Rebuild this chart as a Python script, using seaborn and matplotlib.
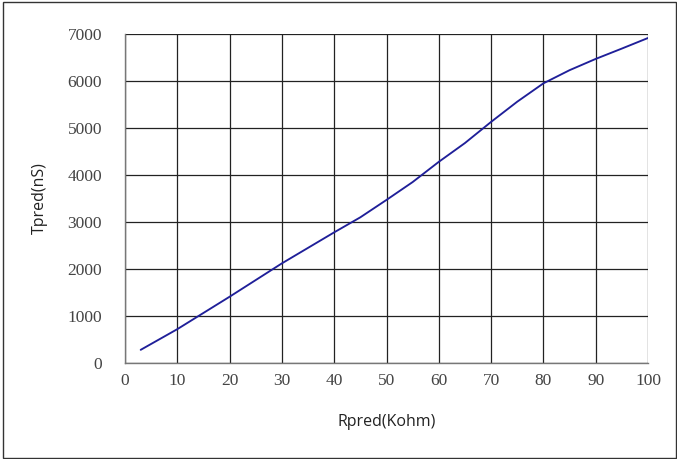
import matplotlib
matplotlib.use("Agg")
import matplotlib.pyplot as plt
import seaborn as sns
import pandas as pd
from matplotlib.patches import Rectangle

rpred = [3, 10, 20, 30, 35, 40, 45, 50, 55, 60, 65, 70, 75, 80, 85, 90, 95, 100]
tpred = [280, 720, 1410, 2120, 2450, 2780, 3100, 3470, 3850, 4280, 4680, 5130, 5560, 5950, 6230, 6470, 6690, 6915]
x_ticks = [0, 10, 20, 30, 40, 50, 60, 70, 80, 90, 100]
y_ticks = [0, 1000, 2000, 3000, 4000, 5000, 6000, 7000]

df = pd.DataFrame({"Rpred": rpred, "Tpred": tpred})

sns.set_theme(style="white")
fig = plt.figure(figsize=(6.77, 4.59), dpi=100)
ax = fig.add_axes([125/677, (459-363)/459, (648-125)/677, (363-34)/459])

sns.lineplot(data=df, x="Rpred", y="Tpred", ax=ax, color="#1f1f99", linewidth=1.35)

ax.set_xlim(0, 100)
ax.set_ylim(0, 7000)
ax.set_xticks(x_ticks)
ax.set_yticks(y_ticks)
ax.grid(True, color="#222222", linewidth=0.9)
ax.set_axisbelow(True)
for s in ["top", "right"]:
    ax.spines[s].set_visible(False)
for s in ["left", "bottom"]:
    ax.spines[s].set_color("#777777")
    ax.spines[s].set_linewidth(1.0)

ax.tick_params(axis="both", length=0, labelsize=12.5, labelcolor="#444444")
ax.tick_params(axis="y", pad=16.5)
ax.tick_params(axis="x", pad=7.5)
for lab in ax.get_xticklabels() + ax.get_yticklabels():
    lab.set_family("Liberation Serif")

ax.set_xlabel("Rpred(Kohm)", family="Open Sans", fontsize=11.5, color="#222222", labelpad=18)
ax.set_ylabel("Tpred(nS)", family="Open Sans", fontsize=11.5, color="#222222", labelpad=14)

fig.patches.append(Rectangle((3/677, 1.5/459), 673/677, 455.5/459, transform=fig.transFigure,
                             fill=False, edgecolor="#333333", linewidth=1.0))

fig.savefig("out.png", dpi=100)
